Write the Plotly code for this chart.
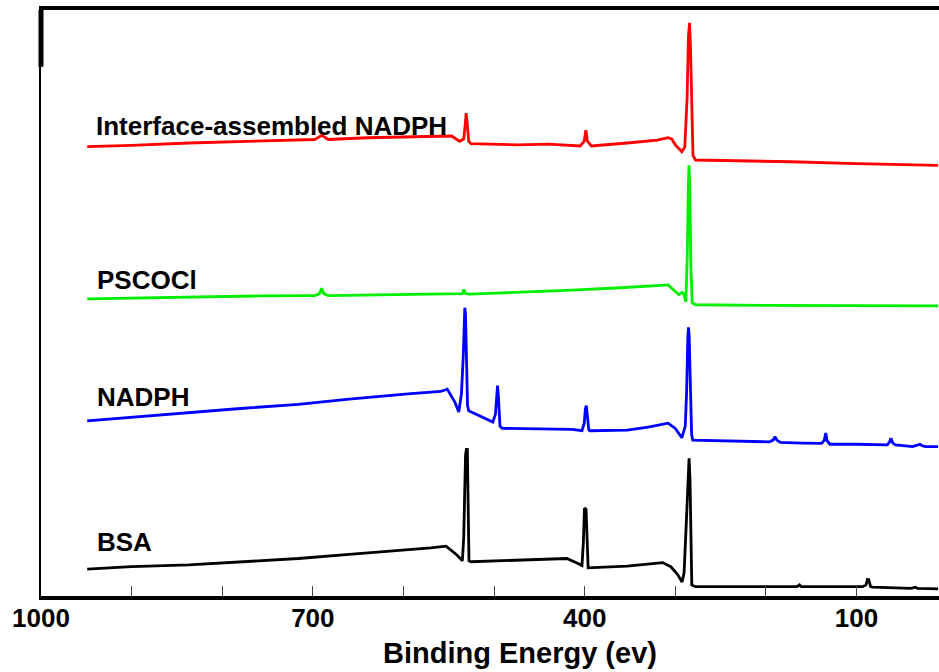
import plotly.graph_objects as go

# XPS survey spectra (binding energy in eV, intensity in arbitrary units, curves offset)
interface_be = [949, 900, 837, 780, 716, 698, 690, 683, 640, 595, 547, 538, 533.5, 531.5,
                530.8, 529.8, 528, 525.6, 474, 440, 405, 400.5, 398.7, 397, 392.6, 353,
                320, 308, 304, 300, 292.8, 289.5, 287, 285.5, 284.3, 283.3, 282, 280.5,
                277.7, 230, 172, 100, 10]
interface_int = [76.7, 76.9, 77.3, 77.5, 77.8, 77.9, 78.6, 77.9, 78.2, 78.4, 78.5, 77.6, 78.0,
                 81.0, 82.4, 81.0, 77.6, 77.2, 77.0, 77.1, 76.8, 77.6, 79.5, 77.6, 76.8, 77.3,
                 77.8, 78.2, 78.0, 77.0, 75.8, 76.6, 85.0, 95.5, 97.8, 94.0, 82.0, 75.2,
                 74.4, 74.3, 74.1, 73.8, 73.5]

pscocl_be = [949, 880, 837, 760, 698, 692.5, 690.2, 688, 683, 620, 541, 535, 533.4, 531.5,
             527.6, 470, 414, 360, 320, 308, 303, 296, 292.5, 290.5, 288.3, 286.8, 285.6,
             284.9, 284.0, 282.8, 281.3, 277.7, 200, 100, 10]
pscocl_int = [50.7, 50.9, 51.1, 51.2, 51.25, 51.6, 52.5, 51.6, 51.25, 51.4, 51.5, 51.6, 52.3,
              51.6, 51.5, 51.8, 52.2, 52.6, 53.0, 53.1, 52.4, 51.4, 51.8, 51.5, 50.2, 58.0,
              70.0, 73.5, 70.0, 56.0, 50.0, 49.7, 49.6, 49.5, 49.5]

nadph_be = [949, 900, 837, 780, 716, 660, 595, 559, 551.7, 548, 543, 539, 536, 534, 533,
            532.3, 531.5, 530.5, 529.3, 528, 520, 510, 501.4, 498.5, 497.0, 496.2, 495.2,
            493.5, 491, 450, 414, 403, 400.5, 399.2, 398.2, 397.2, 395.5, 394.4, 353, 330,
            308, 300, 292.8, 289, 287.5, 286.2, 285.5, 284.7, 283.5, 282, 280.7, 240, 196,
            192, 190, 188, 184, 160, 138.5, 135.5, 134, 132.5, 129.5, 100, 66, 63.5, 62, 60,
            57, 38, 33, 30, 27, 23.6, 10]
nadph_int = [29.9, 30.5, 31.35, 32.0, 32.7, 33.6, 34.5, 34.9, 35.3, 34.4, 33.0, 31.4, 34.5,
             41.0, 47.0, 49.2, 48.0, 40.0, 32.5, 31.6, 31.0, 30.3, 29.7, 31.0, 34.5, 35.9,
             34.0, 29.0, 28.6, 28.5, 28.45, 28.2, 29.5, 32.0, 32.5, 31.0, 28.4, 28.2, 28.3,
             28.8, 29.5, 28.6, 27.0, 29.0, 35.0, 44.0, 45.85, 44.5, 35.0, 27.5, 26.6, 26.5,
             26.3, 26.6, 27.2, 26.6, 26.2, 26.1, 26.05, 26.6, 27.8, 26.5, 25.9, 25.9, 25.8,
             26.3, 26.9, 26.1, 25.8, 25.5, 25.7, 25.9, 25.6, 25.5, 25.5]

bsa_be = [949, 900, 837, 780, 716, 660, 595, 570, 553, 547, 541, 535, 533.5, 531.5, 530.6,
          529.5, 528.6, 527.7, 525.6, 498.5, 460, 419.7, 408, 403, 401.5, 400.2, 398.5,
          397.5, 396.2, 353, 330, 314, 305, 298, 292.5, 290.3, 288, 286, 284.8, 283.8,
          282.8, 281.8, 279.5, 277.7, 200, 165.6, 163, 161, 93.2, 89.5, 88, 86.5, 84.5,
          82.2, 40, 35, 32.6, 10]
bsa_int = [4.6, 5.0, 5.3, 5.8, 6.4, 7.1, 7.85, 8.2, 8.5, 7.8, 7.0, 6.0, 10.0, 24.0, 25.0,
           25.0, 15.0, 6.0, 5.85, 6.0, 6.1, 6.4, 5.6, 5.2, 9.0, 15.0, 14.8, 9.0, 4.8, 5.1,
           5.4, 5.7, 5.0, 3.8, 2.4, 4.0, 12.0, 20.5, 23.5, 20.0, 8.0, 1.9, 1.7, 1.6, 1.6,
           1.6, 1.9, 1.6, 1.6, 1.9, 2.85, 2.8, 1.6, 1.5, 1.3, 1.5, 1.3, 1.2]

series_names = ["Interface-assembled NADPH", "PSCOCl", "NADPH", "BSA"]
series_colors = ["#ff0000", "#00ee00", "#0000ff", "#000000"]
series_be = [interface_be, pscocl_be, nadph_be, bsa_be]
series_int = [interface_int, pscocl_int, nadph_int, bsa_int]

# label anchor for each curve (binding energy, intensity)
label_be = [941.0, 940.0, 940.0, 940.0]
label_int = [80.2, 53.9, 33.9, 9.3]

tick_vals = [1000, 900, 800, 700, 600, 500, 400, 300, 200, 100]
tick_text = ["1000", "", "", "700", "", "", "400", "", "", "100"]

FONT = "Liberation Sans, Arial, sans-serif"

fig = go.Figure()
for name, color, be, inten in zip(series_names, series_colors, series_be, series_int):
    fig.add_trace(go.Scatter(x=be, y=inten, mode="lines", name=name,
                             line=dict(color=color, width=2.8), showlegend=False))

for name, lx, ly in zip(series_names, label_be, label_int):
    fig.add_annotation(x=lx, y=ly, xref="x", yref="y", text="<b>" + name + "</b>",
                       showarrow=False, xanchor="left", yanchor="middle",
                       font=dict(family=FONT, size=26, color="black"))

# axis title
fig.add_annotation(x=0.533, y=-0.098, xref="paper", yref="paper",
                   text="<b>Binding Energy (ev)</b>", showarrow=False,
                   xanchor="center", yanchor="middle",
                   font=dict(family=FONT, size=29, color="black"))

# heavy segment at the top of the left frame
fig.add_shape(type="line", xref="paper", yref="paper", x0=0, x1=0, y0=0.903, y1=1.0,
              line=dict(color="black", width=5))

fig.update_xaxes(range=[1000, 9], showline=True, linecolor="black", linewidth=3.5,
                 mirror=True, ticks="inside", ticklen=10, tickwidth=1, tickcolor="#444",
                 tickvals=tick_vals, ticktext=tick_text, showgrid=False, zeroline=False,
                 ticklabelstandoff=-4,
                 tickfont=dict(family=FONT, size=26, color="black", weight="bold"))
fig.update_yaxes(range=[0, 100], showline=True, linecolor="black", linewidth=2,
                 mirror=False, ticks="", showticklabels=False, showgrid=False,
                 zeroline=False)

fig.update_layout(width=939, height=672, margin=dict(l=41, r=0, t=10, b=76),
                  paper_bgcolor="white", plot_bgcolor="white")

fig.write_html("out.html")
